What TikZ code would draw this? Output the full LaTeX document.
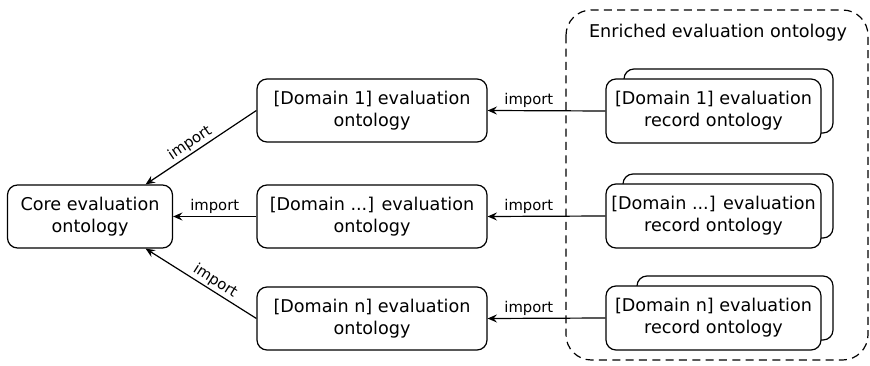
\documentclass[tikz,border=0pt]{standalone}
\usepackage{fontspec}
\setmainfont{DejaVu Sans}
\usetikzlibrary{arrows.meta}

\tikzset{every picture/.style={line width=0.9pt}}
\tikzset{
	onto/.style={draw, rounded corners=7.5pt, fill=white, align=center, inner sep=0.75pt, font=\fontsize{13.2}{16.5}\selectfont},
	imp/.style={-{Stealth[length=7pt,width=6pt,inset=2.5pt]}},
	implabel/.style={font=\fontsize{11.1}{13}\selectfont, inner sep=1.5pt}
}

\begin{document}
\begin{tikzpicture}[x=0.75pt,y=0.75pt,yscale=-1,xscale=1]
		\path (0,0) rectangle (870,366); %diagram size
		
		%Rounded Rect [enriched]
		\draw [dash pattern={on 6pt off 4pt}, rounded corners=19pt] (566,10) rectangle (868,360);
		% Text Node
		\node [font=\fontsize{13.2}{16.5}\selectfont, inner sep=0.75pt] (title) at (718,33) {Enriched evaluation ontology};
		
		% Core
		\node [onto, minimum width=123.75pt, minimum height=47.25pt] (core) at (90,216.5) {Core evaluation\\ontology};
		
		% Domain ontologies
		\node [onto, minimum width=172.5pt, minimum height=47.25pt] (d1) at (372,110.5) {[Domain 1] evaluation\\ontology};
		\node [onto, minimum width=172.5pt, minimum height=47.25pt] (d2) at (372,216.5) {[Domain ...] evaluation\\ontology};
		\node [onto, minimum width=172.5pt, minimum height=47.25pt] (d3) at (372,318.5) {[Domain n] evaluation\\ontology};
		
		% Record ontologies (back copies)
		\node [onto, minimum width=156.75pt, minimum height=48pt] (r1b) at (728.5,101) {};
		\node [onto, minimum width=157.5pt, minimum height=48pt] (r2b) at (728,206) {};
		\node [onto, minimum width=147pt, minimum height=48pt] (r3b) at (735,308) {};
		% Record ontologies
		\node [onto, minimum width=161.25pt, minimum height=48pt] (r1) at (713.5,111) {[Domain 1] evaluation\\record ontology};
		\node [onto, minimum width=161.25pt, minimum height=48pt] (r2) at (713.5,216) {[Domain ...] evaluation\\record ontology};
		\node [onto, minimum width=161.25pt, minimum height=48pt] (r3) at (713.5,318) {[Domain n] evaluation\\record ontology};
		
		% Imports
		\draw [imp] (r1.west) -- node [implabel, above, pos=0.65] {import} (d1.east);
		\draw [imp] (r2.west) -- node [implabel, above, pos=0.65] {import} (d2.east);
		\draw [imp] (r3.west) -- node [implabel, above, pos=0.65] {import} (d3.east);
		
		\draw [imp] (d1.west) -- node [implabel, above, rotate=33.8, pos=0.55] {import} (core.30);
		\draw [imp] (d2.west) -- node [implabel, above] {import} (core.east);
		\draw [imp] (d3.west) -- node [implabel, above, rotate=-32.4, pos=0.42] {import} (core.-30);
		
	\end{tikzpicture}
\end{document}
